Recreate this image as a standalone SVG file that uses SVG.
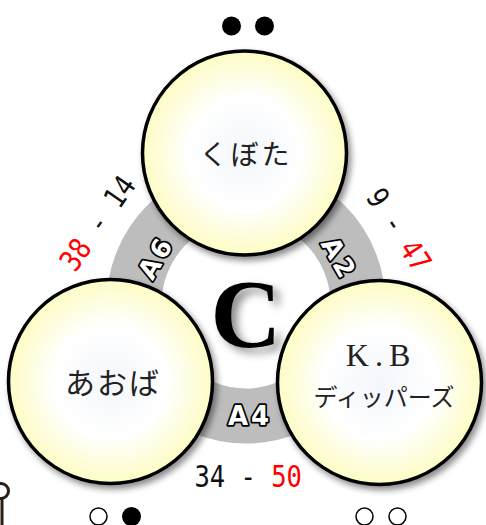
<svg xmlns="http://www.w3.org/2000/svg" width="486" height="525" viewBox="0 0 486 525">
<defs>
<radialGradient id="g" cx="0.5" cy="0.5" r="0.5">
<stop offset="0" stop-color="#f3f6fb"/>
<stop offset="0.55" stop-color="#ffffff"/>
<stop offset="1" stop-color="#fdfcc4"/>
</radialGradient>
<filter id="sh" x="-20%" y="-20%" width="140%" height="140%">
<feDropShadow dx="3" dy="4" stdDeviation="3" flood-color="#000" flood-opacity="0.45"/>
</filter>
<filter id="csh" x="-30%" y="-30%" width="160%" height="160%">
<feDropShadow dx="6" dy="5" stdDeviation="4" flood-color="#000" flood-opacity="0.45"/>
</filter>
</defs>
<style>
.node{fill:url(#g);stroke:#000;stroke-width:3.5;filter:url(#sh)}
.jp{font-family:"Noto Sans CJK JP",sans-serif;fill:#222;text-anchor:middle}
.ring{fill:#fff;stroke:#000;stroke-width:3.5;paint-order:stroke;stroke-linejoin:round;font-family:"DejaVu Sans",sans-serif;font-weight:bold;font-size:26px;text-anchor:middle;letter-spacing:3px}
.sc{font-family:"DejaVu Sans Mono",monospace;font-size:30px;fill:#111}
.red{fill:#ff0000}
.dot{fill:#000}
.odot{fill:#fff;stroke:#000;stroke-width:1.5}
</style>
<rect width="486" height="525" fill="#fff"/>
<g id="connectors">
<circle cx="246" cy="304" r="112" fill="none" stroke="#bdbdbd" stroke-width="55"/>
<text class="ring" transform="translate(155,257) rotate(-60)" y="10">A6</text>
<text class="ring" transform="translate(340,258) rotate(60)" y="10">A2</text>
<text class="ring" x="250" y="425">A4</text>
</g>
<text x="246" y="347" font-family="Liberation Serif, serif" font-weight="bold" font-size="98" text-anchor="middle" filter="url(#csh)">C</text>
<g id="kubota">
<circle class="node" cx="244.5" cy="153" r="102"/>
<text class="jp" x="246" y="165" font-size="28" letter-spacing="3">くぼた</text>
</g>
<g id="aoba">
<circle class="node" cx="110.5" cy="381.5" r="102"/>
<text class="jp" x="113" y="394" font-size="30" letter-spacing="2">あおば</text>
</g>
<g id="kb">
<circle class="node" cx="379.5" cy="382.5" r="102"/>
<text x="381" y="366" font-family="Liberation Serif, serif" font-size="32" fill="#222" text-anchor="middle" letter-spacing="6">K.B</text>
<text class="jp" x="384" y="406" font-size="24">ディッパーズ</text>
</g>
<g id="scores">
<text class="sc" transform="translate(97,223) rotate(-55) scale(0.85,1)" x="-63" y="11"><tspan class="red">38</tspan> - 14</text>
<text class="sc" transform="translate(395,223) rotate(57) scale(0.85,1)" x="-45" y="11">9 - <tspan class="red">47</tspan></text>
<text class="sc" transform="translate(248,487) scale(0.85,1)" x="-63" y="0">34 - <tspan class="red">50</tspan></text>
</g>
<g id="marks">
<circle class="dot" cx="231.5" cy="26" r="9.5"/>
<circle class="dot" cx="264.5" cy="26" r="9.5"/>
<circle class="odot" cx="98.5" cy="516.5" r="8.5"/>
<circle class="dot" cx="131.5" cy="516.5" r="9.5"/>
<circle class="odot" cx="364.5" cy="516.5" r="8.5"/>
<circle class="odot" cx="397.5" cy="516.5" r="8.5"/>
</g>
<g id="fragment" fill="none" stroke="#2b1d14" stroke-width="3">
<circle cx="1" cy="491" r="7.5"/>
<line x1="2" y1="499" x2="2" y2="525"/>
</g>
</svg>
